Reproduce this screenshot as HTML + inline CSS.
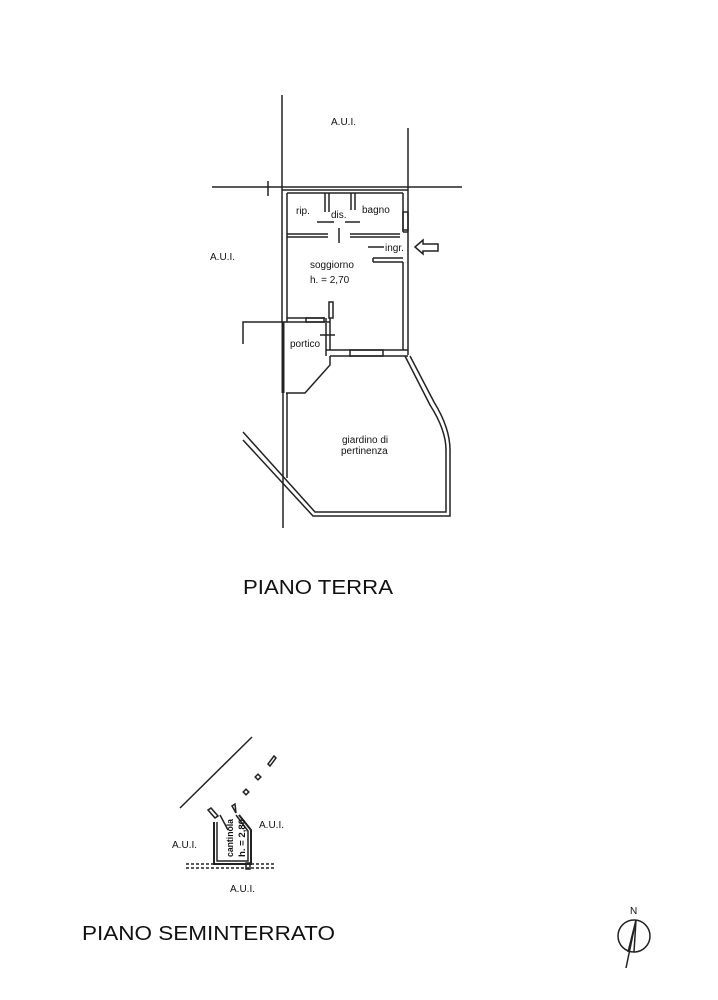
<!DOCTYPE html>
<html><head><meta charset="utf-8"><style>
html,body{margin:0;padding:0;background:#fff;}
svg{display:block;}
text{font-family:"Liberation Sans",sans-serif;fill:#111;}
</style></head><body>
<svg width="718" height="1000" viewBox="0 0 718 1000" xmlns="http://www.w3.org/2000/svg">
<g stroke="#222" fill="none" stroke-width="1.5">
<line x1="282" y1="95" x2="282" y2="190"/>
<line x1="408" y1="128" x2="408" y2="190"/>
<line x1="212" y1="187" x2="462" y2="187"/>
<line x1="268" y1="181" x2="268" y2="196"/>
<line x1="282" y1="190" x2="282" y2="322"/>
<line x1="287" y1="193" x2="287" y2="322"/>
<line x1="287" y1="193" x2="403" y2="193"/>
<line x1="282" y1="190" x2="408" y2="190"/>
<line x1="403" y1="193" x2="403" y2="232"/>
<line x1="408" y1="190" x2="408" y2="355"/>
<line x1="403" y1="262" x2="403" y2="350"/>
<rect x="403" y="212" width="5" height="18"/>
<line x1="287" y1="234" x2="328" y2="234"/>
<line x1="287" y1="237" x2="328" y2="237"/>
<line x1="350" y1="234" x2="400" y2="234"/>
<line x1="350" y1="237" x2="400" y2="237"/>
<line x1="403" y1="232" x2="408" y2="232"/>
<line x1="373" y1="258" x2="403" y2="258"/>
<line x1="373" y1="262" x2="403" y2="262"/>
<line x1="373" y1="258" x2="373" y2="262"/>
<line x1="325" y1="193" x2="325" y2="212"/>
<line x1="329" y1="193" x2="329" y2="212"/>
<line x1="351" y1="193" x2="351" y2="210"/>
<line x1="355" y1="193" x2="355" y2="210"/>
<line x1="317" y1="222" x2="334" y2="222"/>
<line x1="345" y1="222" x2="360" y2="222"/>
<line x1="339" y1="228" x2="339" y2="243"/>
<line x1="368" y1="247" x2="384" y2="247"/>
<path d="M415 247 L423 240 L423 244 L438 244 L438 251 L423 251 L423 254 Z"/>
<line x1="282" y1="322" x2="330" y2="322"/>
<line x1="287" y1="318" x2="325" y2="318"/>
<rect x="306" y="318" width="18" height="4"/>
<line x1="330" y1="318" x2="330" y2="350"/>
<line x1="326" y1="318" x2="326" y2="322"/>
<rect x="329" y="302" width="4" height="16"/>
<line x1="326" y1="323" x2="326" y2="356"/>
<line x1="320" y1="335" x2="335" y2="335"/>
<line x1="326" y1="350" x2="408" y2="350"/>
<line x1="330" y1="356" x2="408" y2="356"/>
<rect x="350" y="350" width="33" height="6"/>
<polyline points="243,344 243,322 282,322"/>
<line x1="283" y1="322" x2="283" y2="393" stroke-width="3"/>
<polyline points="330,356 330,365 305,393 286,393"/>
<line x1="283" y1="393" x2="283" y2="520"/>
<line x1="287" y1="393" x2="287" y2="478"/>
<path d="M405 356 L430 405 Q446 430 446 450 L446 512 L315 512 L243 432"/>
<path d="M410 356 L434 402 Q450 428 450 450 L450 516 L313 516 L243 440"/>
<line x1="283" y1="520" x2="283" y2="528"/>
<line x1="180" y1="808" x2="252" y2="737"/>
<path d="M215 818 L208 810 L211 808 L218 816 Z"/>
<line x1="220" y1="815" x2="228" y2="830"/>
<path d="M214 822 L214 864 L251 864 L251 830 L239 815" stroke-width="2"/>
<path d="M217 822 L217 861 L248 861 L248 831 L236 815"/>
<path d="M236 813 L232 806 L235 804 Z"/>
<rect x="244" y="790" width="4" height="4" transform="rotate(45 246 792)"/>
<rect x="256" y="775" width="4" height="4" transform="rotate(45 258 777)"/>
<path d="M268 764 L274 756 L276 758 L270 766 Z"/>
<line x1="186" y1="864" x2="276" y2="864" stroke-dasharray="3,2"/>
<line x1="186" y1="868" x2="276" y2="868" stroke-dasharray="3,2"/>
<rect x="246" y="863" width="4" height="6"/>
<circle cx="634" cy="936" r="16"/>
<line x1="626" y1="968" x2="636" y2="920"/>
<path d="M628 952 L636 920 L634 952"/>
</g>
<g font-size="10">
<text x="331" y="125">A.U.I.</text>
<text x="210" y="260">A.U.I.</text>
<text x="296" y="214">rip.</text>
<text x="331" y="218">dis.</text>
<text x="362" y="213">bagno</text>
<text x="385" y="251">ingr.</text>
<text x="310" y="268">soggiorno</text>
<text x="310" y="283">h. = 2,70</text>
<text x="290" y="347">portico</text>
<text x="342" y="443">giardino di</text>
<text x="341" y="454">pertinenza</text>
<text x="172" y="848">A.U.I.</text>
<text x="259" y="828">A.U.I.</text>
<text x="230" y="892">A.U.I.</text>
<text x="630" y="914">N</text>
<text font-size="9.5" font-weight="bold" textLength="38" lengthAdjust="spacingAndGlyphs" transform="translate(233,857) rotate(-90)">cantinola</text>
<text font-size="9.5" font-weight="bold" textLength="38" lengthAdjust="spacingAndGlyphs" transform="translate(245,857) rotate(-90)">h. = 2,80</text>
</g>
<text x="243" y="594" font-size="20" textLength="150" lengthAdjust="spacingAndGlyphs">PIANO TERRA</text>
<text x="82" y="940" font-size="20" textLength="253" lengthAdjust="spacingAndGlyphs">PIANO SEMINTERRATO</text>
</svg>
</body></html>
